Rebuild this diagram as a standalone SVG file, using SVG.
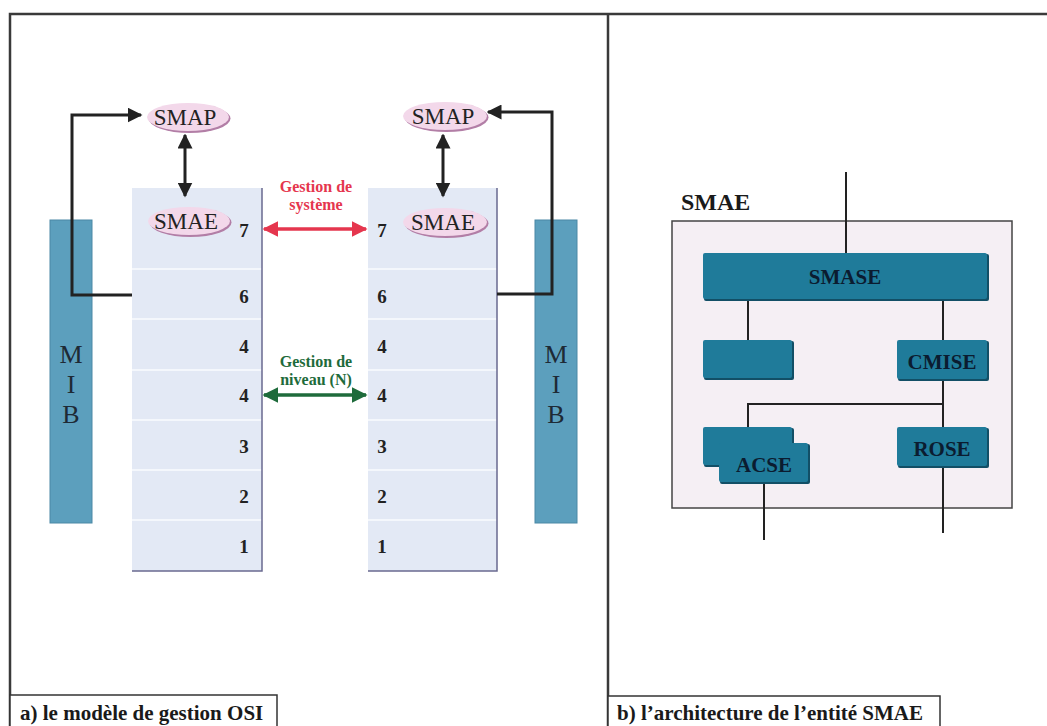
<svg xmlns="http://www.w3.org/2000/svg" width="1047" height="726" viewBox="0 0 1047 726">
  <defs>
    <style>
      .frame { fill: none; stroke: #3a3a3a; stroke-width: 2.5; }
      .stack { fill: #e3e9f5; }
      .sep { stroke: #f4f7fc; stroke-width: 2; }
      .edge { stroke: #6a6a90; stroke-width: 1.5; fill: none; }
      .mib { fill: #5c9fbd; stroke: #4a88a5; stroke-width: 1; }
      .mibtxt { font-family: "Liberation Serif", serif; font-size: 26px; fill: #1e2a35; text-anchor: middle; }
      .ellsh { fill: #b27ea6; }
      .ell { fill: #f3d8ea; }
      .elltxt { font-family: "Liberation Serif", serif; font-size: 23px; fill: #222; text-anchor: middle; }
      .num { font-family: "Liberation Serif", serif; font-size: 19px; font-weight: bold; fill: #222; text-anchor: middle; }
      .conn { fill: none; stroke: #222; stroke-width: 3; }
      .red { stroke: #e5364e; stroke-width: 3.5; fill: none; }
      .green { stroke: #1e6b3b; stroke-width: 3.5; fill: none; }
      .redtxt { font-family: "Liberation Serif", serif; font-size: 16px; font-weight: bold; fill: #e5364e; text-anchor: middle; }
      .greentxt { font-family: "Liberation Serif", serif; font-size: 16px; font-weight: bold; fill: #1e6b3b; text-anchor: middle; }
      .cap { font-family: "Liberation Serif", serif; font-size: 21px; font-weight: bold; fill: #1a1a1a; }
      .capbox { fill: #fff; stroke: #333; stroke-width: 1.5; }
      .ent { fill: #f5eff4; stroke: #444; stroke-width: 1.5; }
      .blksh { fill: #124f66; }
      .blk { fill: #1f7b9a; }
      .blktxt { font-family: "Liberation Serif", serif; font-size: 21px; font-weight: bold; fill: #0b1c30; text-anchor: middle; }
      .wire { fill: none; stroke: #222; stroke-width: 2; }
    </style>
    <marker id="ah" viewBox="0 0 10 10" refX="9" refY="5" markerWidth="5" markerHeight="5" orient="auto-start-reverse" markerUnits="strokeWidth">
      <path d="M0,0 L10,5 L0,10 z" fill="#222"/>
    </marker>
    <marker id="ahRed" viewBox="0 0 10 10" refX="9" refY="5" markerWidth="4.5" markerHeight="4.5" orient="auto-start-reverse" markerUnits="strokeWidth">
      <path d="M0,0 L10,5 L0,10 z" fill="#e5364e"/>
    </marker>
    <marker id="ahGreen" viewBox="0 0 10 10" refX="9" refY="5" markerWidth="4.5" markerHeight="4.5" orient="auto-start-reverse" markerUnits="strokeWidth">
      <path d="M0,0 L10,5 L0,10 z" fill="#1e6b3b"/>
    </marker>
  </defs>

  <rect width="1047" height="726" fill="#ffffff"/>

  <!-- outer frame and panel divider -->
  <g id="frame">
    <path class="frame" d="M10,726 V14 H1047"/>
    <line class="frame" x1="608" y1="14" x2="608" y2="726" stroke-width="3.5"/>
  </g>

  <!-- panel a: MIB bars -->
  <g id="mib-left">
    <rect class="mib" x="50" y="220" width="42" height="303"/>
    <text class="mibtxt" x="71" y="363">M</text>
    <text class="mibtxt" x="71" y="393">I</text>
    <text class="mibtxt" x="71" y="423">B</text>
  </g>
  <g id="mib-right">
    <rect class="mib" x="535" y="220" width="42" height="303"/>
    <text class="mibtxt" x="556" y="363">M</text>
    <text class="mibtxt" x="556" y="393">I</text>
    <text class="mibtxt" x="556" y="423">B</text>
  </g>

  <!-- panel a: protocol stacks -->
  <g id="stack-left">
    <rect class="stack" x="132" y="188" width="130" height="383"/>
    <line class="sep" x1="132" y1="269" x2="262" y2="269"/>
    <line class="sep" x1="132" y1="319" x2="262" y2="319"/>
    <line class="sep" x1="132" y1="370" x2="262" y2="370"/>
    <line class="sep" x1="132" y1="420" x2="262" y2="420"/>
    <line class="sep" x1="132" y1="470" x2="262" y2="470"/>
    <line class="sep" x1="132" y1="520" x2="262" y2="520"/>
    <path class="edge" d="M262,188 V571 H132"/>
    <text class="num" x="244" y="237">7</text>
    <text class="num" x="244" y="303">6</text>
    <text class="num" x="244" y="353">4</text>
    <text class="num" x="244" y="402">4</text>
    <text class="num" x="244" y="453">3</text>
    <text class="num" x="244" y="503">2</text>
    <text class="num" x="244" y="553">1</text>
  </g>
  <g id="stack-right">
    <rect class="stack" x="368" y="188" width="129" height="383"/>
    <line class="sep" x1="368" y1="269" x2="497" y2="269"/>
    <line class="sep" x1="368" y1="319" x2="497" y2="319"/>
    <line class="sep" x1="368" y1="370" x2="497" y2="370"/>
    <line class="sep" x1="368" y1="420" x2="497" y2="420"/>
    <line class="sep" x1="368" y1="470" x2="497" y2="470"/>
    <line class="sep" x1="368" y1="520" x2="497" y2="520"/>
    <path class="edge" d="M497,188 V571 H368"/>
    <text class="num" x="382" y="237">7</text>
    <text class="num" x="382" y="303">6</text>
    <text class="num" x="382" y="353">4</text>
    <text class="num" x="382" y="402">4</text>
    <text class="num" x="382" y="453">3</text>
    <text class="num" x="382" y="503">2</text>
    <text class="num" x="382" y="553">1</text>
  </g>

  <!-- panel a: SMAP / SMAE entities -->
  <g id="smap-left">
    <ellipse class="ellsh" cx="189.5" cy="118.5" rx="41" ry="14.5"/>
    <ellipse class="ell" cx="188" cy="117" rx="41" ry="14"/>
    <text class="elltxt" x="185" y="125">SMAP</text>
  </g>
  <g id="smae-left">
    <ellipse class="ellsh" cx="190.5" cy="222.5" rx="41" ry="14.5"/>
    <ellipse class="ell" cx="189" cy="221" rx="41" ry="14"/>
    <text class="elltxt" x="186" y="229">SMAE</text>
  </g>
  <g id="smap-right">
    <ellipse class="ellsh" cx="446.5" cy="117.5" rx="42" ry="14.5"/>
    <ellipse class="ell" cx="445" cy="116" rx="42" ry="14"/>
    <text class="elltxt" x="443" y="124">SMAP</text>
  </g>
  <g id="smae-right">
    <ellipse class="ellsh" cx="446.5" cy="223.5" rx="42" ry="14.5"/>
    <ellipse class="ell" cx="445" cy="222" rx="42" ry="14"/>
    <text class="elltxt" x="443" y="230">SMAE</text>
  </g>

  <!-- panel a: connectors -->
  <g id="connectors-a">
    <line class="conn" x1="185" y1="135" x2="185" y2="196" marker-start="url(#ah)" marker-end="url(#ah)"/>
    <line class="conn" x1="443" y1="135" x2="443" y2="196" marker-start="url(#ah)" marker-end="url(#ah)"/>
    <path class="conn" d="M132,295 H72 V115 H141" marker-end="url(#ah)"/>
    <path class="conn" d="M497,294 H552 V112 H488" marker-end="url(#ah)"/>
    <line class="red" x1="264" y1="229" x2="366" y2="229" marker-start="url(#ahRed)" marker-end="url(#ahRed)"/>
    <line class="green" x1="264" y1="395" x2="366" y2="395" marker-start="url(#ahGreen)" marker-end="url(#ahGreen)"/>
  </g>
  <g id="labels-a">
    <text class="redtxt" x="316" y="192">Gestion de</text>
    <text class="redtxt" x="316" y="210">système</text>
    <text class="greentxt" x="316" y="367">Gestion de</text>
    <text class="greentxt" x="316" y="385">niveau (N)</text>
  </g>

  <!-- panel b: SMAE entity architecture -->
  <g id="smae-entity">
    <text class="cap" x="681" y="210" style="font-size:24px">SMAE</text>
    <rect class="ent" x="672" y="221" width="340" height="287"/>
  </g>

  <g id="connectors-b">
    <line class="wire" x1="846" y1="172" x2="846" y2="253"/>
    <line class="wire" x1="748" y1="300" x2="748" y2="340"/>
    <line class="wire" x1="943" y1="300" x2="943" y2="340"/>
    <line class="wire" x1="943" y1="380" x2="943" y2="427"/>
    <path class="wire" d="M943,404 H748 V427"/>
    <line class="wire" x1="764" y1="484" x2="764" y2="540"/>
    <line class="wire" x1="943" y1="468" x2="943" y2="533"/>
  </g>

  <g id="smase">
    <rect class="blksh" x="704" y="254" width="285" height="47" rx="2"/>
    <rect class="blk" x="703" y="253" width="284" height="46" rx="2"/>
    <text class="blktxt" x="845" y="284">SMASE</text>
  </g>
  <g id="unnamed-block">
    <rect class="blksh" x="704" y="341" width="90" height="39" rx="2"/>
    <rect class="blk" x="703" y="340" width="89" height="38" rx="2"/>
  </g>
  <g id="cmise">
    <rect class="blksh" x="898" y="341" width="91" height="40" rx="2"/>
    <rect class="blk" x="897" y="340" width="90" height="39" rx="2"/>
    <text class="blktxt" x="942" y="369">CMISE</text>
  </g>
  <g id="acse">
    <rect class="blksh" x="704" y="428" width="90" height="39" rx="2"/>
    <rect class="blk" x="703" y="427" width="89" height="38" rx="2"/>
    <rect class="blksh" x="720" y="444" width="90" height="40" rx="2"/>
    <rect class="blk" x="719" y="443" width="89" height="39" rx="2"/>
    <text class="blktxt" x="764" y="472">ACSE</text>
  </g>
  <g id="rose">
    <rect class="blksh" x="898" y="428" width="91" height="40" rx="2"/>
    <rect class="blk" x="897" y="427" width="90" height="39" rx="2"/>
    <text class="blktxt" x="942" y="456">ROSE</text>
  </g>

  <!-- captions -->
  <g id="caption-a">
    <rect class="capbox" x="10" y="695" width="267" height="40"/>
    <text class="cap" x="20" y="720">a) le modèle de gestion OSI</text>
  </g>
  <g id="caption-b">
    <rect class="capbox" x="608" y="696" width="332" height="40"/>
    <text class="cap" x="617" y="720">b) l’architecture de l’entité SMAE</text>
  </g>
</svg>
